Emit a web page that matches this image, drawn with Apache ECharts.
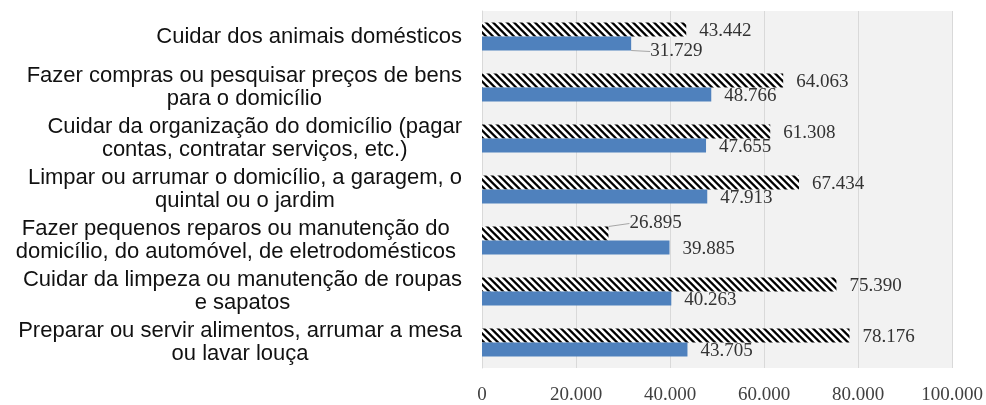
<!DOCTYPE html>
<html>
<head>
<meta charset="utf-8">
<script src="https://cdn.jsdelivr.net/npm/echarts@6/dist/echarts.min.js"></script>
<style>
html,body{margin:0;padding:0;background:#fff;}
#c{width:986px;height:405px;}
</style>
</head>
<body>
<div id="c"></div>
<script>
var categories = [
  "Cuidar dos animais domésticos",
  "Fazer compras ou pesquisar preços de bens\npara o domicílio",
  "Cuidar da organização do domicílio (pagar\ncontas, contratar serviços, etc.)",
  "Limpar ou arrumar o domicílio, a garagem, o\nquintal ou o jardim",
  "Fazer pequenos reparos ou manutenção do \ndomicílio, do automóvel, de eletrodomésticos ",
  "Cuidar da limpeza ou manutenção de roupas\ne sapatos",
  "Preparar ou servir alimentos, arrumar a mesa\nou lavar louça"
];
var hatchedValues = [43442, 64063, 61308, 67434, 26895, 75390, 78176];
var blueValues = [31729, 48766, 47655, 47913, 39885, 40263, 43705];
var xTicks = [0, 20000, 40000, 60000, 80000, 100000];

function fmt(v){ return String(v).replace(/\B(?=(\d{3})+(?!\d))/g, '.'); }

// hatch pattern
var s = 7;
var cv = document.createElement('canvas');
cv.width = s; cv.height = s;
var g = cv.getContext('2d');
g.fillStyle = '#fff'; g.fillRect(0,0,s,s);
g.fillStyle = '#000';
var w = 3.2;
function band(ox){
  g.beginPath();
  g.moveTo(ox, 0); g.lineTo(ox + w, 0); g.lineTo(ox + w + s, s); g.lineTo(ox + s, s); g.closePath(); g.fill();
}
band(-s); band(0);
var hatch = {image: cv, repeat: 'repeat'};

var chart = echarts.init(document.getElementById('c'), null, {renderer:'canvas'});
var valFont = {fontFamily:'Liberation Serif', fontSize:19, color:'#333333'};

var hatchedData = hatchedValues.map(function(v, i){
  var it = {value: v};
  if (i === 4) it.labelLine = {show: true};
  return it;
});
var blueData = blueValues.map(function(v, i){
  var it = {value: v};
  if (i === 0) it.labelLine = {show: true};
  return it;
});

chart.setOption({
  animation: false,
  grid: {left: 482, right: 33, top: 11, bottom: 30, show: true, backgroundColor: '#f2f2f2', borderWidth: 0},
  xAxis: {
    type: 'value', min: 0, max: 100000, interval: 20000,
    axisLine: {show: false}, axisTick: {show: false},
    splitLine: {show: true, lineStyle: {color: '#d9d9d9', width: 1}},
    axisLabel: {margin: 18, fontFamily:'Liberation Serif', fontSize:19, color:'#404040',
      formatter: function(v){ return fmt(v); }}
  },
  yAxis: {
    type: 'category', inverse: true, data: categories,
    axisLine: {show: true, lineStyle: {color: '#d9d9d9'}}, axisTick: {show: false},
    axisLabel: {
      margin: 20, fontFamily: 'Liberation Sans', fontSize: 22, color: '#111111', lineHeight: 23,
      formatter: function(v){ return v.split('\n').map(function(l){ return '{c|' + l + '}'; }).join('\n'); },
      rich: {c: {align: 'center', fontFamily: 'Liberation Sans', fontSize: 22, color: '#111111', lineHeight: 23}}
    }
  },
  series: [
    {
      type: 'bar', data: hatchedData, barWidth: 14, barGap: '0%',
      itemStyle: {color: hatch},
      label: Object.assign({show: true, position: 'right', distance: 13,
        formatter: function(p){ return fmt(p.value); }}, valFont),
      labelLine: {show: false, lineStyle: {color: '#a6a6a6', width: 1}},
      labelLayout: function(p){ return p.dataIndex === 4 ? {dx: 8, dy: -10} : {dy: 2}; }
    },
    {
      type: 'bar', data: blueData, barWidth: 14, barGap: '0%',
      itemStyle: {color: '#4f81bd'},
      label: Object.assign({show: true, position: 'right', distance: 13,
        formatter: function(p){ return fmt(p.value); }}, valFont),
      labelLine: {show: false, lineStyle: {color: '#a6a6a6', width: 1}},
      labelLayout: function(p){ return p.dataIndex === 0 ? {dx: 6, dy: 8} : {dy: 2}; }
    }
  ]
});
</script>
</body>
</html>
